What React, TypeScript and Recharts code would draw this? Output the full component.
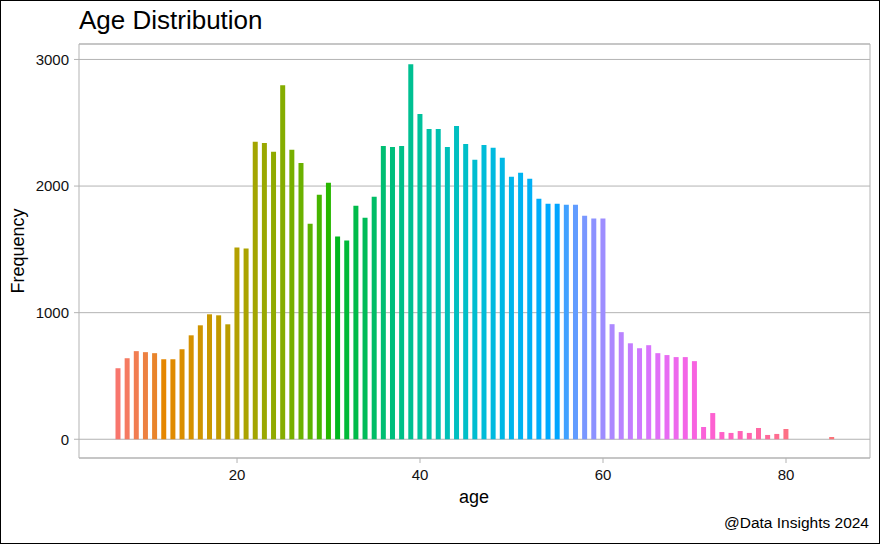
import { BarChart, Bar, Cell, XAxis, YAxis, CartesianGrid, ReferenceArea } from "recharts";

const ages = [
  7, 8, 9, 10, 11, 12, 13, 14, 15, 16, 17, 18, 19, 20, 21, 22, 23, 24, 25, 26,
  27, 28, 29, 30, 31, 32, 33, 34, 35, 36, 37, 38, 39, 40, 41, 42, 43, 44, 45, 46,
  47, 48, 49, 50, 51, 52, 53, 54, 55, 56, 57, 58, 59, 60, 61, 62, 63, 64, 65, 66,
  67, 68, 69, 70, 71, 72, 73, 74, 75, 76, 77, 78, 79, 80, 85,
];

const counts = [
  561, 640, 696, 688, 680, 632, 632, 711, 821, 900, 987, 979, 908, 1515, 1506, 2349, 2341, 2270, 2796, 2286,
  2183, 1703, 1931, 2026, 1601, 1569, 1845, 1750, 1916, 2317, 2309, 2317, 2963, 2569, 2451, 2451, 2309, 2475, 2333, 2207,
  2325, 2302, 2223, 2073, 2105, 2057, 1900, 1861, 1861, 1853, 1853, 1766, 1743, 1743, 909, 846, 758, 719, 743, 680,
  665, 649, 649, 617, 97, 207, 57, 50, 65, 50, 89, 34, 42, 81, 18,
];

const xTicks = [20, 40, 60, 80];
const yTicks = [0, 1000, 2000, 3000];

const data = ages.map((age, i) => ({ age, count: counts[i] }));

// ggplot-style hue palette (hcl, l = 65, c = 100)
function hueColor(i: number, n: number) {
  const h = ((15 + (360 * i) / n) * Math.PI) / 180;
  const L = 65;
  const C = 100;
  const u = C * Math.cos(h);
  const v = C * Math.sin(h);
  const Xn = 95.047, Yn = 100, Zn = 108.883;
  const Y = Yn * Math.pow((L + 16) / 116, 3);
  const un = (4 * Xn) / (Xn + 15 * Yn + 3 * Zn);
  const vn = (9 * Yn) / (Xn + 15 * Yn + 3 * Zn);
  const up = u / (13 * L) + un;
  const vp = v / (13 * L) + vn;
  const X = (9 * Y * up) / (4 * vp);
  const Z = -X / 3 - 5 * Y + (3 * Y) / vp;
  const x = X / 100, y = Y / 100, z = Z / 100;
  const lin = [
    3.240479 * x - 1.53715 * y - 0.498535 * z,
    -0.969256 * x + 1.875992 * y + 0.041556 * z,
    0.055648 * x - 0.204043 * y + 1.057311 * z,
  ];
  const hex = lin
    .map((c) => {
      const g = c <= 0.0031308 ? 12.92 * c : 1.055 * Math.pow(c, 1 / 2.4) - 0.055;
      const k = Math.round(Math.min(1, Math.max(0, g)) * 255);
      return k.toString(16).padStart(2, "0");
    })
    .join("");
  return "#" + hex;
}

const FONT = "'Liberation Sans', Arial, sans-serif";
const GRID = "#b3b3b3";
const tickStyle = { fontSize: 15, fontFamily: FONT, fill: "#111" };

export default function App() {
  return (
    <div style={{ position: "absolute", left: 0, top: 0, width: 880, height: 544, background: "#fff", fontFamily: FONT }}>
      <BarChart
        width={880}
        height={544}
        data={data}
        margin={{ top: 44, right: 10, bottom: 56, left: 0 }}
        style={{ position: "absolute", left: 0, top: 0 }}
      >
        <CartesianGrid vertical={false} stroke={GRID} strokeWidth={1} />
        <ReferenceArea x1={2.73} x2={89.18} y1={-148} y2={3122} fill="none" stroke={GRID} strokeWidth={1} ifOverflow="visible" />
        <XAxis
          type="number"
          dataKey="age"
          domain={[2.73, 89.18]}
          ticks={xTicks}
          allowDataOverflow
          height={30}
          tick={tickStyle}
          tickSize={5}
          tickMargin={6}
          tickLine={{ stroke: GRID }}
          axisLine={false}
        />
        <YAxis
          type="number"
          domain={[-148, 3122]}
          ticks={yTicks}
          allowDataOverflow
          width={79}
          tick={tickStyle}
          tickSize={5}
          tickMargin={5}
          tickLine={{ stroke: GRID }}
          axisLine={false}
        />
        <Bar dataKey="count" barSize={5} isAnimationActive={false}>
          {data.map((d, i) => (
            <Cell key={d.age} fill={hueColor(i, data.length)} />
          ))}
        </Bar>
      </BarChart>
      <div style={{ position: "absolute", left: 79, top: 5, fontSize: 26, color: "#000", lineHeight: "30px" }}>
        Age Distribution
      </div>
      <div
        style={{
          position: "absolute",
          left: 18,
          top: 251,
          fontSize: 18,
          color: "#000",
          transform: "translate(-50%, -50%) rotate(-90deg)",
          whiteSpace: "nowrap",
        }}
      >
        Frequency
      </div>
      <div style={{ position: "absolute", left: 474, top: 497, fontSize: 18, color: "#000", transform: "translate(-50%, -50%)" }}>
        age
      </div>
      <div style={{ position: "absolute", right: 11, top: 514, fontSize: 15.5, color: "#000", whiteSpace: "nowrap" }}>
        @Data Insights 2024
      </div>
      <div
        style={{
          position: "absolute",
          left: 0,
          top: 0,
          width: 880,
          height: 544,
          boxSizing: "border-box",
          border: "1px solid #000",
          pointerEvents: "none",
        }}
      />
    </div>
  );
}
